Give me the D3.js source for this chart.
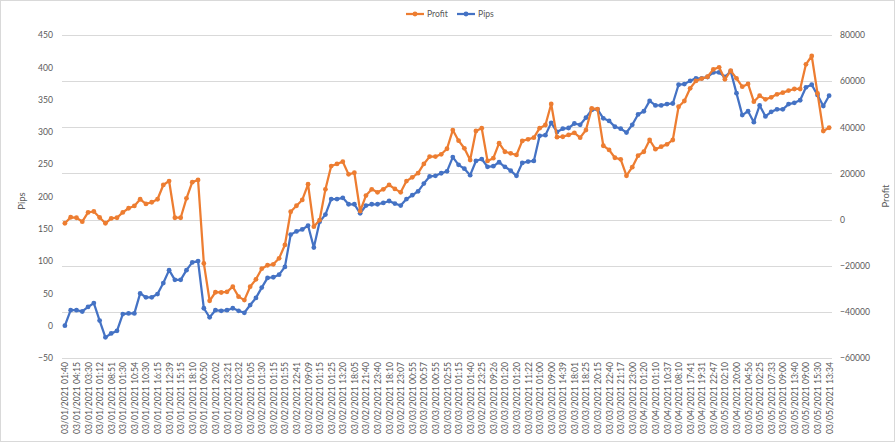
<!DOCTYPE html>
<html>
<head>
<meta charset="utf-8">
<script src="https://cdn.jsdelivr.net/npm/d3@7"></script>
<style>
  body { margin: 0; background: #fff; }
  svg { display: block; }
</style>
</head>
<body>
<svg id="canvas" width="895" height="442"></svg>
<script>
//profit and pips per trade

//every other category label shown on the x axis
var tickLabels = [
  "03/01/2021 01:40", "03/01/2021 04:15", "03/01/2021 03:30", "03/01/2021 01:12",
  "03/01/2021 08:51", "03/01/2021 01:30", "03/01/2021 10:54", "03/01/2021 10:30",
  "03/01/2021 16:15", "03/01/2021 12:39", "03/01/2021 15:15", "03/01/2021 18:10",
  "03/01/2021 00:50", "03/01/2021 20:02", "03/01/2021 23:21", "03/02/2021 02:32",
  "03/02/2021 01:05", "03/02/2021 01:30", "03/02/2021 01:15", "03/02/2021 01:55",
  "03/02/2021 22:41", "03/02/2021 09:09", "03/02/2021 01:15", "03/02/2021 01:25",
  "03/02/2021 13:20", "03/02/2021 18:05", "03/02/2021 21:40", "03/02/2021 23:40",
  "03/02/2021 18:10", "03/02/2021 23:07", "03/03/2021 00:55", "03/03/2021 00:57",
  "03/03/2021 00:55", "03/03/2021 02:55", "03/03/2021 01:15", "03/03/2021 01:40",
  "03/02/2021 23:25", "03/03/2021 09:26", "03/03/2021 01:20", "03/03/2021 01:20",
  "03/03/2021 11:22", "03/03/2021 01:00", "03/03/2021 09:00", "03/03/2021 14:39",
  "03/03/2021 18:01", "03/03/2021 18:25", "03/03/2021 20:15", "03/03/2021 22:40",
  "03/03/2021 21:17", "03/03/2021 23:00", "03/04/2021 01:20", "03/04/2021 01:10",
  "03/04/2021 10:37", "03/04/2021 08:10", "03/04/2021 17:41", "03/04/2021 19:31",
  "03/04/2021 22:47", "03/05/2021 02:10", "03/04/2021 20:00", "03/05/2021 04:56",
  "03/05/2021 02:25", "03/05/2021 07:33", "03/05/2021 09:00", "03/05/2021 13:40",
  "03/05/2021 09:00", "03/05/2021 15:30", "03/05/2021 13:34"
];

//Pips series (left axis)
var pips = [
  0, 24, 24, 22, 29, 35, 8, -18, -12, -8,
  18, 19, 19, 50, 44, 44, 49, 66, 86, 71,
  71, 86, 98, 100, 27, 13, 24, 23, 24, 27,
  23, 20, 32, 43, 59, 74, 75, 79, 91, 141,
  146, 149, 155, 121, 161, 172, 196, 196, 198, 188,
  188, 174, 186, 188, 188, 190, 193, 189, 186, 196,
  202, 208, 220, 231, 232, 236, 239, 261, 249, 243,
  233, 255, 258, 246, 247, 253, 246, 240, 232, 252,
  254, 255, 294, 295, 314, 300, 305, 306, 313, 311,
  322, 334, 335, 321, 317, 308, 305, 299, 311, 327,
  332, 348, 341, 341, 343, 344, 373, 374, 379, 383,
  383, 385, 392, 392, 385, 394, 360, 326, 332, 315,
  341, 324, 331, 335, 335, 343, 345, 349, 369, 373,
  357, 340, 356
];

//Profit series (right axis)
var profit = [
  -1600, 1000, 800, -900, 3100, 3500, 900, -1600, 500, 800,
  3100, 4900, 5900, 8800, 6800, 7500, 8800, 15000, 16700, 800,
  800, 9200, 16200, 17200, -19000, -35200, -31500, -31600, -31300, -29100,
  -33400, -34900, -29100, -25900, -21300, -19800, -19400, -16800, -11000, 3400,
  6000, 8500, 15300, -3100, -200, 13100, 23200, 24100, 25100, 19600,
  20300, 3700, 10400, 13100, 11800, 13100, 15000, 13300, 11800, 16700,
  18300, 20100, 24100, 27300, 27300, 28300, 30700, 38800, 34200, 30900,
  25800, 38400, 39600, 25400, 26600, 33100, 29400, 28700, 28000, 34100,
  34800, 35500, 39600, 41000, 50100, 35700, 35900, 36700, 37600, 35500,
  38800, 48200, 47900, 32000, 30200, 26800, 26100, 19000, 22700, 27700,
  29400, 34500, 30500, 31600, 32600, 34500, 48900, 51400, 56900, 60100,
  61100, 61900, 65100, 66000, 60800, 64500, 61200, 57600, 58800, 51100,
  53700, 52100, 53000, 54300, 55000, 55900, 56600, 56600, 67300, 70900,
  54700, 38400, 39800
];

var pipsTicks = d3.range(-50, 451, 50);
var profitTicks = d3.range(-60000, 80001, 20000);

var orange = "#ED7D31";
var blue = "#4472C4";
var textGrey = "#595959";
var gridGrey = "#d9d9d9";
var font = "Lato, 'Open Sans', sans-serif";

var svg = d3.select("#canvas");
var width = +svg.attr("width");
var height = +svg.attr("height");

//plot area
var plotLeft = 62, plotRight = 832, plotTop = 35, plotBottom = 358;

//chart border
svg.append("rect")
  .attr("x", 0.5)
  .attr("y", 0.5)
  .attr("width", width - 1)
  .attr("height", height - 1)
  .style("fill", "#fff")
  .style("stroke", gridGrey);

var xScale = d3.scaleLinear()
  .domain([-0.5, pips.length - 0.5])
  .range([plotLeft, plotRight]);

var pipsScale = d3.scaleLinear()
  .domain([-50, 450])
  .range([plotBottom, plotTop]);

var profitScale = d3.scaleLinear()
  .domain([-60000, 80000])
  .range([plotBottom, plotTop]);

//gridlines come from the secondary axis
svg.append("g")
  .attr("class", "grid")
  .selectAll("line")
  .data(profitTicks)
  .enter().append("line")
  .attr("x1", plotLeft)
  .attr("x2", plotRight)
  .attr("y1", function(d) { return Math.round(profitScale(d)) + 0.5; })
  .attr("y2", function(d) { return Math.round(profitScale(d)) + 0.5; })
  .style("stroke", gridGrey)
  .style("stroke-width", 1);

//left axis
var leftAxis = svg.append("g")
  .attr("transform", "translate(" + plotLeft + ",0)")
  .call(d3.axisLeft(pipsScale).tickValues(pipsTicks).tickSize(0).tickPadding(9)
    .tickFormat(d3.format("d")));
leftAxis.select(".domain").remove();

//right axis, plain numbers without thousands separator
var rightAxis = svg.append("g")
  .attr("transform", "translate(" + plotRight + ",0)")
  .call(d3.axisRight(profitScale).tickValues(profitTicks).tickSize(0).tickPadding(8)
    .tickFormat(d3.format("d")));
rightAxis.select(".domain").remove();

//category axis, labels on every second point
var xAxis = svg.append("g")
  .attr("transform", "translate(0," + plotBottom + ")")
  .call(d3.axisBottom(xScale)
    .tickValues(d3.range(0, pips.length, 2))
    .tickSize(0)
    .tickFormat(function(d) { return tickLabels[d / 2]; }));
xAxis.select(".domain").remove();
xAxis.selectAll("text")
  .attr("transform", "rotate(-90)")
  .attr("text-anchor", "end")
  .attr("x", -4)
  .attr("y", 0)
  .attr("dy", "0.35em");

svg.selectAll(".tick text")
  .style("font-family", font)
  .style("font-size", "8.6px")
  .style("fill", textGrey);

//axis titles
svg.append("text")
  .attr("transform", "translate(25,201) rotate(-90)")
  .attr("text-anchor", "middle")
  .style("font-family", font)
  .style("font-size", "9.5px")
  .style("fill", textGrey)
  .text("Pips");

svg.append("text")
  .attr("transform", "translate(889,196) rotate(-90)")
  .attr("text-anchor", "middle")
  .style("font-family", font)
  .style("font-size", "9.5px")
  .style("fill", textGrey)
  .text("Profit");

//series
var pipsLine = d3.line()
  .x(function(d, i) { return xScale(i); })
  .y(function(d) { return pipsScale(d); });

var profitLine = d3.line()
  .x(function(d, i) { return xScale(i); })
  .y(function(d) { return profitScale(d); });

function drawSeries(values, line, scale, colour) {
  var g = svg.append("g");
  g.append("path")
    .datum(values)
    .attr("d", line)
    .style("fill", "none")
    .style("stroke", colour)
    .style("stroke-width", 2.25)
    .style("stroke-linejoin", "round");
  g.selectAll("circle")
    .data(values)
    .enter().append("circle")
    .attr("cx", function(d, i) { return xScale(i); })
    .attr("cy", function(d) { return scale(d); })
    .attr("r", 2.4)
    .style("fill", colour);
}

drawSeries(pips, pipsLine, pipsScale, blue);
drawSeries(profit, profitLine, profitScale, orange);

//legend
var legendItems = [
  { name: "Profit", colour: orange, x: 406 },
  { name: "Pips", colour: blue, x: 457 }
];

var legend = svg.append("g").attr("class", "legend");
legendItems.forEach(function(item) {
  legend.append("line")
    .attr("x1", item.x)
    .attr("x2", item.x + 18)
    .attr("y1", 14)
    .attr("y2", 14)
    .style("stroke", item.colour)
    .style("stroke-width", 2.25);
  legend.append("circle")
    .attr("cx", item.x + 9)
    .attr("cy", 14)
    .attr("r", 2.4)
    .style("fill", item.colour);
  legend.append("text")
    .attr("x", item.x + 21)
    .attr("y", 14)
    .attr("dy", "0.35em")
    .style("font-family", font)
    .style("font-size", "8.6px")
    .style("fill", textGrey)
    .text(item.name);
});
</script>
</body>
</html>
